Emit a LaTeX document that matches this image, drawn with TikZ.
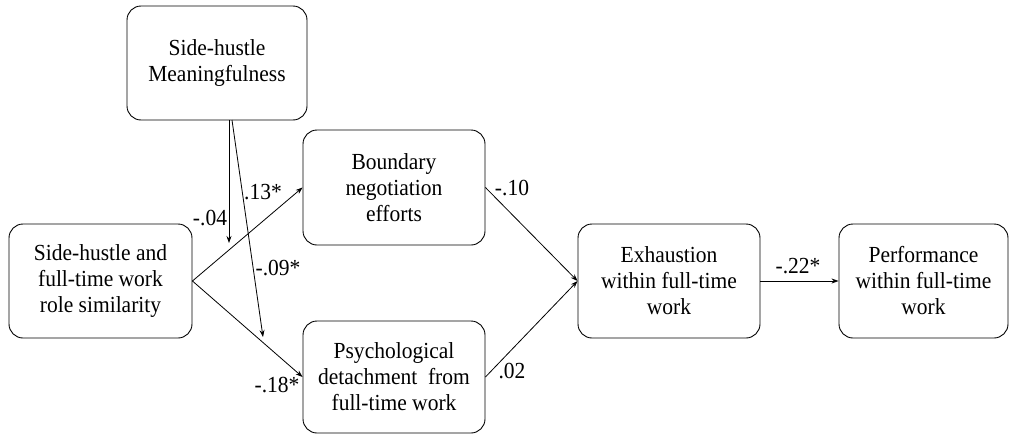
\documentclass[tikz,border=0pt]{standalone}
\usepackage{fontspec}
\setmainfont[FakeStretch=0.935]{Liberation Serif}
\usetikzlibrary{arrows.meta,calc}
\begin{document}
\begin{tikzpicture}[x=1pt,y=-1pt,
  box/.style={draw, line width=0.9pt, rounded corners=14pt, align=center,
    inner sep=2pt, font=\fontsize{23}{26}\selectfont},
  conn/.style={line width=0.8pt, -{Stealth[length=7pt,width=5pt]}},
  lbl/.style={font=\fontsize{23}{26}\selectfont, inner sep=0pt}]
\useasboundingbox (0,0) rectangle (1013,434);
\node[box, minimum width=180pt, minimum height=114pt] (M) at (217,63) {Side-hustle\\Meaningfulness};
\node[box, minimum width=183pt, minimum height=114pt] (L) at (100.5,281) {Side-hustle and\\full-time work\\role similarity};
\node[box, minimum width=182pt, minimum height=115pt] (B) at (394,187.5) {Boundary\\negotiation\\efforts};
\node[box, minimum width=182pt, minimum height=112pt] (P) at (394,377) {Psychological\\detachment\ \ from\\full-time work};
\node[box, minimum width=182pt, minimum height=114pt] (E) at (669,281) {Exhaustion\\within full-time\\work};
\node[box, minimum width=169pt, minimum height=114pt] (F) at (923.5,281) {Performance\\within full-time\\work};
\coordinate (m1s) at (229,120);
\coordinate (m1) at (229,243);
\coordinate (m2s) at (232,120);
\coordinate (m2) at (263,337);
\draw[conn] (L.east) -- (B.west);
\draw[conn] (L.east) -- (P.west);
\draw[conn] (m1s) -- (m1);
\draw[conn] (m2s) -- (m2);
\draw[conn] (B.east) -- (E.west);
\draw[conn] (P.east) -- (E.west);
\draw[conn] (E.east) -- (F.west);
\node[lbl] (l1) at (210,218) {-.04};
\node[lbl] (l2) at (263,192) {.13*};
\node[lbl] (l3) at (278,268) {-.09*};
\node[lbl] (l4) at (277,385) {-.18*};
\node[lbl] (l5) at (512,188) {-.10};
\node[lbl] (l6) at (512,371) {.02};
\node[lbl] (l7) at (798,266) {-.22*};
\end{tikzpicture}
\end{document}
